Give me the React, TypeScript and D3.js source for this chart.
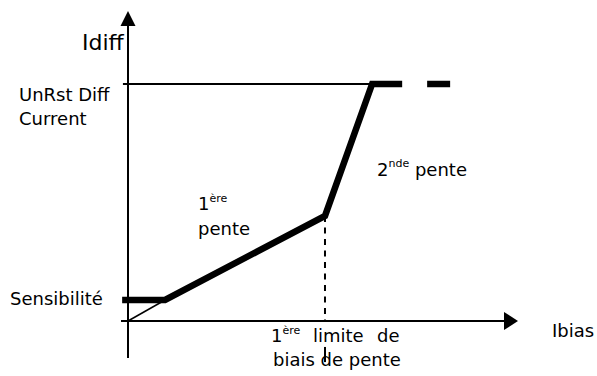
import * as d3 from "d3"

// characteristic break points (arbitrary units)
const ibiasPts = [-0.15, 0.95, 5.051, 6.26, 7.03]
const idiffPts = [0.68, 0.68, 3.4, 7.67, 7.67]
const dashIbias = [7.67, 8.26]
const sensibilite = 0.68
const unrstLevel = 7.67
const limite1 = 5.051
const kneeIdiff = 3.4
const limiteTail = [-0.84, -1.33]

const W = 597
const H = 376
const font = "'DejaVu Sans', Verdana, sans-serif"

export default function App() {
  const x = d3.scaleLinear().domain([0, 10]).range([128, 518])
  const y = d3.scaleLinear().domain([0, 10]).range([321, 12])

  const pts = ibiasPts.map((v, i) => [v, idiffPts[i]] as [number, number])
  const line = d3
    .line<[number, number]>()
    .x((d) => x(d[0]))
    .y((d) => y(d[1]))

  const x0 = x(0)
  const y0 = y(0)

  return (
    <svg width={W} height={H} style={{ position: "absolute", left: 0, top: 0, background: "#fff" }}>
      {/* axes */}
      <line x1={x0} x2={x0} y1={y0 + 37} y2={y(10) + 12} stroke="#000" strokeWidth={2} />
      <path d={`M${x0},${y(10) - 1} L${x0 - 7.5},${y(10) + 14} L${x0 + 7.5},${y(10) + 14} Z`} fill="#000" />
      <line x1={x0 - 7} x2={x(10) - 12} y1={y0} y2={y0} stroke="#000" strokeWidth={2} />
      <path d={`M${x(10)},${y0} L${x(10) - 14},${y0 - 9} L${x(10) - 14},${y0 + 9} Z`} fill="#000" />

      {/* unrestrained level */}
      <line x1={x(-0.13)} x2={x(ibiasPts[3])} y1={y(unrstLevel)} y2={y(unrstLevel)} stroke="#000" strokeWidth={2} />

      {/* thin line from origin */}
      <line x1={x0} y1={y0} x2={x(ibiasPts[1])} y2={y(sensibilite)} stroke="#000" strokeWidth={1.5} />

      {/* vertical dashed limit */}
      <line
        x1={x(limite1)}
        x2={x(limite1)}
        y1={y(kneeIdiff)}
        y2={y0}
        stroke="#000"
        strokeWidth={2}
        strokeDasharray="6,5.5"
      />
      <line
        x1={x(limite1)}
        x2={x(limite1)}
        y1={y(limiteTail[0])}
        y2={y(limiteTail[1])}
        stroke="#000"
        strokeWidth={2}
      />

      {/* characteristic */}
      <path d={line(pts) ?? ""} fill="none" stroke="#000" strokeWidth={6.5} strokeLinejoin="miter" strokeMiterlimit={10} />
      <line x1={x(dashIbias[0])} x2={x(dashIbias[1])} y1={y(unrstLevel)} y2={y(unrstLevel)} stroke="#000" strokeWidth={6.5} />

      {/* labels */}
      <g fontFamily={font} fontSize={18} fill="#000">
        <text x={82} y={50} fontSize={22}>Idiff</text>
        <text x={19} y={101}>UnRst Diff</text>
        <text x={19} y={125}>Current</text>
        <text x={10} y={305}>Sensibilité</text>

        <text x={198} y={210}>
          1<tspan fontSize={11} dy={-8}>ère</tspan>
        </text>
        <text x={198} y={235}>pente</text>

        <text x={377} y={176}>
          2<tspan fontSize={11} dy={-9}>nde</tspan>
          <tspan dy={9}> pente</tspan>
        </text>

        <text x={271} y={342}>
          1<tspan fontSize={11} dy={-8}>ère</tspan>
          <tspan x={313} dy={8}>limite</tspan>
          <tspan x={377}>de</tspan>
        </text>
        <text x={273} y={366}>biais de pente</text>

        <text x={552} y={337}>Ibias</text>
      </g>
    </svg>
  )
}
